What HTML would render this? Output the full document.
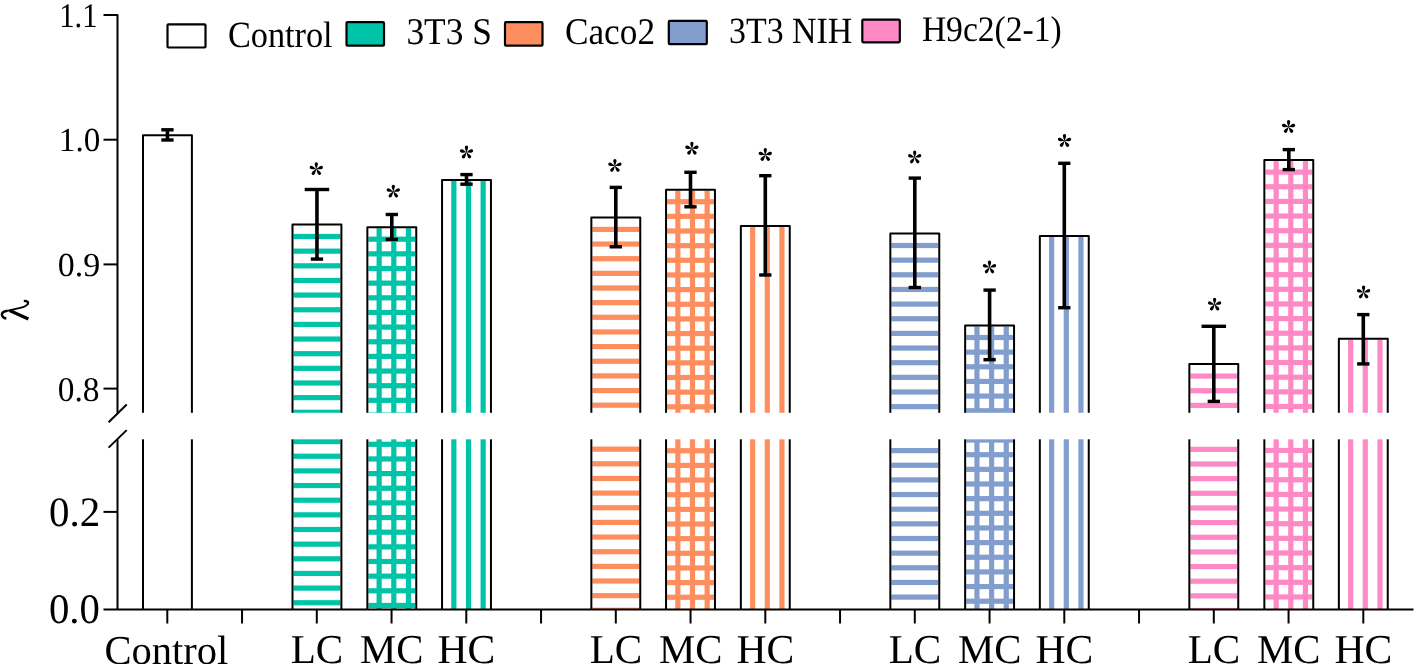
<!DOCTYPE html>
<html><head><meta charset="utf-8"><style>
html,body{margin:0;padding:0;background:#fff;width:1416px;height:664px;overflow:hidden}
svg{display:block;will-change:transform}
text{text-rendering:geometricPrecision;font-family:"Liberation Serif",serif;fill:#000}
</style></head><body>
<svg width="1416" height="664" viewBox="0 0 1416 664">
<defs>
<path id="pt" d="M0,0.3 C-0.45,-1.4 -1.65,-3.5 -1.65,-5.25 A1.65,1.65 0 0 1 1.65,-5.25 C1.65,-3.5 0.45,-1.4 0,0.3 Z"/>
<g id="star"><use href="#pt"/><use href="#pt" transform="rotate(72)"/><use href="#pt" transform="rotate(144)"/><use href="#pt" transform="rotate(216)"/><use href="#pt" transform="rotate(288)"/></g>
</defs>
<rect width="1416" height="664" fill="#fff"/>

<path d="M143.00,609.5 V135.30 H191.90 V609.5" fill="none" stroke="#000" stroke-width="2" stroke-linejoin="round"/>
<g fill="#00C4A8"><rect x="293.50" y="233.90" width="46.90" height="5.20"/><rect x="293.50" y="248.55" width="46.90" height="5.20"/><rect x="293.50" y="263.20" width="46.90" height="5.20"/><rect x="293.50" y="277.85" width="46.90" height="5.20"/><rect x="293.50" y="292.50" width="46.90" height="5.20"/><rect x="293.50" y="307.15" width="46.90" height="5.20"/><rect x="293.50" y="321.80" width="46.90" height="5.20"/><rect x="293.50" y="336.45" width="46.90" height="5.20"/><rect x="293.50" y="351.10" width="46.90" height="5.20"/><rect x="293.50" y="365.75" width="46.90" height="5.20"/><rect x="293.50" y="380.40" width="46.90" height="5.20"/><rect x="293.50" y="395.05" width="46.90" height="5.20"/><rect x="293.50" y="409.70" width="46.90" height="5.20"/><rect x="293.50" y="424.35" width="46.90" height="5.20"/><rect x="293.50" y="439.00" width="46.90" height="5.20"/><rect x="293.50" y="453.65" width="46.90" height="5.20"/><rect x="293.50" y="468.30" width="46.90" height="5.20"/><rect x="293.50" y="482.95" width="46.90" height="5.20"/><rect x="293.50" y="497.60" width="46.90" height="5.20"/><rect x="293.50" y="512.25" width="46.90" height="5.20"/><rect x="293.50" y="526.90" width="46.90" height="5.20"/><rect x="293.50" y="541.55" width="46.90" height="5.20"/><rect x="293.50" y="556.20" width="46.90" height="5.20"/><rect x="293.50" y="570.85" width="46.90" height="5.20"/><rect x="293.50" y="585.50" width="46.90" height="5.20"/><rect x="293.50" y="600.15" width="46.90" height="5.20"/></g>
<path d="M292.50,609.5 V224.50 H341.40 V609.5" fill="none" stroke="#000" stroke-width="2" stroke-linejoin="round"/>
<g fill="#00C4A8"><rect x="368.35" y="236.60" width="46.90" height="5.20"/><rect x="368.35" y="251.25" width="46.90" height="5.20"/><rect x="368.35" y="265.90" width="46.90" height="5.20"/><rect x="368.35" y="280.55" width="46.90" height="5.20"/><rect x="368.35" y="295.20" width="46.90" height="5.20"/><rect x="368.35" y="309.85" width="46.90" height="5.20"/><rect x="368.35" y="324.50" width="46.90" height="5.20"/><rect x="368.35" y="339.15" width="46.90" height="5.20"/><rect x="368.35" y="353.80" width="46.90" height="5.20"/><rect x="368.35" y="368.45" width="46.90" height="5.20"/><rect x="368.35" y="383.10" width="46.90" height="5.20"/><rect x="368.35" y="397.75" width="46.90" height="5.20"/><rect x="368.35" y="412.40" width="46.90" height="5.20"/><rect x="368.35" y="427.05" width="46.90" height="5.20"/><rect x="368.35" y="441.70" width="46.90" height="5.20"/><rect x="368.35" y="456.35" width="46.90" height="5.20"/><rect x="368.35" y="471.00" width="46.90" height="5.20"/><rect x="368.35" y="485.65" width="46.90" height="5.20"/><rect x="368.35" y="500.30" width="46.90" height="5.20"/><rect x="368.35" y="514.95" width="46.90" height="5.20"/><rect x="368.35" y="529.60" width="46.90" height="5.20"/><rect x="368.35" y="544.25" width="46.90" height="5.20"/><rect x="368.35" y="558.90" width="46.90" height="5.20"/><rect x="368.35" y="573.55" width="46.90" height="5.20"/><rect x="368.35" y="588.20" width="46.90" height="5.20"/><rect x="368.35" y="602.85" width="46.90" height="5.20"/><rect x="376.55" y="228.20" width="5.20" height="381.30"/><rect x="391.20" y="228.20" width="5.20" height="381.30"/><rect x="405.85" y="228.20" width="5.20" height="381.30"/></g>
<path d="M367.35,609.5 V227.20 H416.25 V609.5" fill="none" stroke="#000" stroke-width="2" stroke-linejoin="round"/>
<g fill="#00C4A8"><rect x="451.25" y="181.00" width="5.20" height="428.50"/><rect x="465.90" y="181.00" width="5.20" height="428.50"/><rect x="480.55" y="181.00" width="5.20" height="428.50"/></g>
<path d="M442.05,609.5 V180.00 H490.95 V609.5" fill="none" stroke="#000" stroke-width="2" stroke-linejoin="round"/>
<g fill="#FF8E5F"><rect x="592.35" y="226.80" width="46.90" height="5.20"/><rect x="592.35" y="241.45" width="46.90" height="5.20"/><rect x="592.35" y="256.10" width="46.90" height="5.20"/><rect x="592.35" y="270.75" width="46.90" height="5.20"/><rect x="592.35" y="285.40" width="46.90" height="5.20"/><rect x="592.35" y="300.05" width="46.90" height="5.20"/><rect x="592.35" y="314.70" width="46.90" height="5.20"/><rect x="592.35" y="329.35" width="46.90" height="5.20"/><rect x="592.35" y="344.00" width="46.90" height="5.20"/><rect x="592.35" y="358.65" width="46.90" height="5.20"/><rect x="592.35" y="373.30" width="46.90" height="5.20"/><rect x="592.35" y="387.95" width="46.90" height="5.20"/><rect x="592.35" y="402.60" width="46.90" height="5.20"/><rect x="592.35" y="417.25" width="46.90" height="5.20"/><rect x="592.35" y="431.90" width="46.90" height="5.20"/><rect x="592.35" y="446.55" width="46.90" height="5.20"/><rect x="592.35" y="461.20" width="46.90" height="5.20"/><rect x="592.35" y="475.85" width="46.90" height="5.20"/><rect x="592.35" y="490.50" width="46.90" height="5.20"/><rect x="592.35" y="505.15" width="46.90" height="5.20"/><rect x="592.35" y="519.80" width="46.90" height="5.20"/><rect x="592.35" y="534.45" width="46.90" height="5.20"/><rect x="592.35" y="549.10" width="46.90" height="5.20"/><rect x="592.35" y="563.75" width="46.90" height="5.20"/><rect x="592.35" y="578.40" width="46.90" height="5.20"/><rect x="592.35" y="593.05" width="46.90" height="5.20"/><rect x="592.35" y="607.70" width="46.90" height="1.80"/></g>
<path d="M591.35,609.5 V217.40 H640.25 V609.5" fill="none" stroke="#000" stroke-width="2" stroke-linejoin="round"/>
<g fill="#FF8E5F"><rect x="667.05" y="199.10" width="46.90" height="5.20"/><rect x="667.05" y="213.75" width="46.90" height="5.20"/><rect x="667.05" y="228.40" width="46.90" height="5.20"/><rect x="667.05" y="243.05" width="46.90" height="5.20"/><rect x="667.05" y="257.70" width="46.90" height="5.20"/><rect x="667.05" y="272.35" width="46.90" height="5.20"/><rect x="667.05" y="287.00" width="46.90" height="5.20"/><rect x="667.05" y="301.65" width="46.90" height="5.20"/><rect x="667.05" y="316.30" width="46.90" height="5.20"/><rect x="667.05" y="330.95" width="46.90" height="5.20"/><rect x="667.05" y="345.60" width="46.90" height="5.20"/><rect x="667.05" y="360.25" width="46.90" height="5.20"/><rect x="667.05" y="374.90" width="46.90" height="5.20"/><rect x="667.05" y="389.55" width="46.90" height="5.20"/><rect x="667.05" y="404.20" width="46.90" height="5.20"/><rect x="667.05" y="418.85" width="46.90" height="5.20"/><rect x="667.05" y="433.50" width="46.90" height="5.20"/><rect x="667.05" y="448.15" width="46.90" height="5.20"/><rect x="667.05" y="462.80" width="46.90" height="5.20"/><rect x="667.05" y="477.45" width="46.90" height="5.20"/><rect x="667.05" y="492.10" width="46.90" height="5.20"/><rect x="667.05" y="506.75" width="46.90" height="5.20"/><rect x="667.05" y="521.40" width="46.90" height="5.20"/><rect x="667.05" y="536.05" width="46.90" height="5.20"/><rect x="667.05" y="550.70" width="46.90" height="5.20"/><rect x="667.05" y="565.35" width="46.90" height="5.20"/><rect x="667.05" y="580.00" width="46.90" height="5.20"/><rect x="667.05" y="594.65" width="46.90" height="5.20"/><rect x="667.05" y="609.30" width="46.90" height="0.20"/><rect x="675.25" y="190.70" width="5.20" height="418.80"/><rect x="689.90" y="190.70" width="5.20" height="418.80"/><rect x="704.55" y="190.70" width="5.20" height="418.80"/></g>
<path d="M666.05,609.5 V189.70 H714.95 V609.5" fill="none" stroke="#000" stroke-width="2" stroke-linejoin="round"/>
<g fill="#FF8E5F"><rect x="750.05" y="227.00" width="5.20" height="382.50"/><rect x="764.70" y="227.00" width="5.20" height="382.50"/><rect x="779.35" y="227.00" width="5.20" height="382.50"/></g>
<path d="M740.85,609.5 V226.00 H789.75 V609.5" fill="none" stroke="#000" stroke-width="2" stroke-linejoin="round"/>
<g fill="#829ECE"><rect x="891.35" y="242.90" width="46.90" height="5.20"/><rect x="891.35" y="257.55" width="46.90" height="5.20"/><rect x="891.35" y="272.20" width="46.90" height="5.20"/><rect x="891.35" y="286.85" width="46.90" height="5.20"/><rect x="891.35" y="301.50" width="46.90" height="5.20"/><rect x="891.35" y="316.15" width="46.90" height="5.20"/><rect x="891.35" y="330.80" width="46.90" height="5.20"/><rect x="891.35" y="345.45" width="46.90" height="5.20"/><rect x="891.35" y="360.10" width="46.90" height="5.20"/><rect x="891.35" y="374.75" width="46.90" height="5.20"/><rect x="891.35" y="389.40" width="46.90" height="5.20"/><rect x="891.35" y="404.05" width="46.90" height="5.20"/><rect x="891.35" y="418.70" width="46.90" height="5.20"/><rect x="891.35" y="433.35" width="46.90" height="5.20"/><rect x="891.35" y="448.00" width="46.90" height="5.20"/><rect x="891.35" y="462.65" width="46.90" height="5.20"/><rect x="891.35" y="477.30" width="46.90" height="5.20"/><rect x="891.35" y="491.95" width="46.90" height="5.20"/><rect x="891.35" y="506.60" width="46.90" height="5.20"/><rect x="891.35" y="521.25" width="46.90" height="5.20"/><rect x="891.35" y="535.90" width="46.90" height="5.20"/><rect x="891.35" y="550.55" width="46.90" height="5.20"/><rect x="891.35" y="565.20" width="46.90" height="5.20"/><rect x="891.35" y="579.85" width="46.90" height="5.20"/><rect x="891.35" y="594.50" width="46.90" height="5.20"/><rect x="891.35" y="609.15" width="46.90" height="0.35"/></g>
<path d="M890.35,609.5 V233.50 H939.25 V609.5" fill="none" stroke="#000" stroke-width="2" stroke-linejoin="round"/>
<g fill="#829ECE"><rect x="966.15" y="334.90" width="46.90" height="5.20"/><rect x="966.15" y="349.55" width="46.90" height="5.20"/><rect x="966.15" y="364.20" width="46.90" height="5.20"/><rect x="966.15" y="378.85" width="46.90" height="5.20"/><rect x="966.15" y="393.50" width="46.90" height="5.20"/><rect x="966.15" y="408.15" width="46.90" height="5.20"/><rect x="966.15" y="422.80" width="46.90" height="5.20"/><rect x="966.15" y="437.45" width="46.90" height="5.20"/><rect x="966.15" y="452.10" width="46.90" height="5.20"/><rect x="966.15" y="466.75" width="46.90" height="5.20"/><rect x="966.15" y="481.40" width="46.90" height="5.20"/><rect x="966.15" y="496.05" width="46.90" height="5.20"/><rect x="966.15" y="510.70" width="46.90" height="5.20"/><rect x="966.15" y="525.35" width="46.90" height="5.20"/><rect x="966.15" y="540.00" width="46.90" height="5.20"/><rect x="966.15" y="554.65" width="46.90" height="5.20"/><rect x="966.15" y="569.30" width="46.90" height="5.20"/><rect x="966.15" y="583.95" width="46.90" height="5.20"/><rect x="966.15" y="598.60" width="46.90" height="5.20"/><rect x="974.35" y="326.50" width="5.20" height="283.00"/><rect x="989.00" y="326.50" width="5.20" height="283.00"/><rect x="1003.65" y="326.50" width="5.20" height="283.00"/></g>
<path d="M965.15,609.5 V325.50 H1014.05 V609.5" fill="none" stroke="#000" stroke-width="2" stroke-linejoin="round"/>
<g fill="#829ECE"><rect x="1049.05" y="237.00" width="5.20" height="372.50"/><rect x="1063.70" y="237.00" width="5.20" height="372.50"/><rect x="1078.35" y="237.00" width="5.20" height="372.50"/></g>
<path d="M1039.85,609.5 V236.00 H1088.75 V609.5" fill="none" stroke="#000" stroke-width="2" stroke-linejoin="round"/>
<g fill="#FF89C5"><rect x="1190.35" y="373.50" width="46.90" height="5.20"/><rect x="1190.35" y="388.15" width="46.90" height="5.20"/><rect x="1190.35" y="402.80" width="46.90" height="5.20"/><rect x="1190.35" y="417.45" width="46.90" height="5.20"/><rect x="1190.35" y="432.10" width="46.90" height="5.20"/><rect x="1190.35" y="446.75" width="46.90" height="5.20"/><rect x="1190.35" y="461.40" width="46.90" height="5.20"/><rect x="1190.35" y="476.05" width="46.90" height="5.20"/><rect x="1190.35" y="490.70" width="46.90" height="5.20"/><rect x="1190.35" y="505.35" width="46.90" height="5.20"/><rect x="1190.35" y="520.00" width="46.90" height="5.20"/><rect x="1190.35" y="534.65" width="46.90" height="5.20"/><rect x="1190.35" y="549.30" width="46.90" height="5.20"/><rect x="1190.35" y="563.95" width="46.90" height="5.20"/><rect x="1190.35" y="578.60" width="46.90" height="5.20"/><rect x="1190.35" y="593.25" width="46.90" height="5.20"/><rect x="1190.35" y="607.90" width="46.90" height="1.60"/></g>
<path d="M1189.35,609.5 V364.10 H1238.25 V609.5" fill="none" stroke="#000" stroke-width="2" stroke-linejoin="round"/>
<g fill="#FF89C5"><rect x="1265.35" y="169.50" width="46.90" height="5.20"/><rect x="1265.35" y="184.15" width="46.90" height="5.20"/><rect x="1265.35" y="198.80" width="46.90" height="5.20"/><rect x="1265.35" y="213.45" width="46.90" height="5.20"/><rect x="1265.35" y="228.10" width="46.90" height="5.20"/><rect x="1265.35" y="242.75" width="46.90" height="5.20"/><rect x="1265.35" y="257.40" width="46.90" height="5.20"/><rect x="1265.35" y="272.05" width="46.90" height="5.20"/><rect x="1265.35" y="286.70" width="46.90" height="5.20"/><rect x="1265.35" y="301.35" width="46.90" height="5.20"/><rect x="1265.35" y="316.00" width="46.90" height="5.20"/><rect x="1265.35" y="330.65" width="46.90" height="5.20"/><rect x="1265.35" y="345.30" width="46.90" height="5.20"/><rect x="1265.35" y="359.95" width="46.90" height="5.20"/><rect x="1265.35" y="374.60" width="46.90" height="5.20"/><rect x="1265.35" y="389.25" width="46.90" height="5.20"/><rect x="1265.35" y="403.90" width="46.90" height="5.20"/><rect x="1265.35" y="418.55" width="46.90" height="5.20"/><rect x="1265.35" y="433.20" width="46.90" height="5.20"/><rect x="1265.35" y="447.85" width="46.90" height="5.20"/><rect x="1265.35" y="462.50" width="46.90" height="5.20"/><rect x="1265.35" y="477.15" width="46.90" height="5.20"/><rect x="1265.35" y="491.80" width="46.90" height="5.20"/><rect x="1265.35" y="506.45" width="46.90" height="5.20"/><rect x="1265.35" y="521.10" width="46.90" height="5.20"/><rect x="1265.35" y="535.75" width="46.90" height="5.20"/><rect x="1265.35" y="550.40" width="46.90" height="5.20"/><rect x="1265.35" y="565.05" width="46.90" height="5.20"/><rect x="1265.35" y="579.70" width="46.90" height="5.20"/><rect x="1265.35" y="594.35" width="46.90" height="5.20"/><rect x="1265.35" y="609.00" width="46.90" height="0.50"/><rect x="1273.55" y="161.10" width="5.20" height="448.40"/><rect x="1288.20" y="161.10" width="5.20" height="448.40"/><rect x="1302.85" y="161.10" width="5.20" height="448.40"/></g>
<path d="M1264.35,609.5 V160.10 H1313.25 V609.5" fill="none" stroke="#000" stroke-width="2" stroke-linejoin="round"/>
<g fill="#FF89C5"><rect x="1348.05" y="339.80" width="5.20" height="269.70"/><rect x="1362.70" y="339.80" width="5.20" height="269.70"/><rect x="1377.35" y="339.80" width="5.20" height="269.70"/></g>
<path d="M1338.85,609.5 V338.80 H1387.75 V609.5" fill="none" stroke="#000" stroke-width="2" stroke-linejoin="round"/>
<rect x="120" y="412.8" width="1296" height="26.5" fill="#fff"/>
<g stroke="#000" fill="none"><line x1="167.45" y1="129.80" x2="167.45" y2="140.00" stroke-width="3.6"/><line x1="161.30" y1="129.80" x2="173.60" y2="129.80" stroke-width="3.4"/><line x1="161.30" y1="140.00" x2="173.60" y2="140.00" stroke-width="3.4"/></g>
<g stroke="#000" fill="none"><line x1="316.95" y1="189.50" x2="316.95" y2="259.10" stroke-width="3.6"/><line x1="304.70" y1="189.50" x2="329.20" y2="189.50" stroke-width="3.4"/><line x1="310.80" y1="259.10" x2="323.10" y2="259.10" stroke-width="3.4"/></g>
<use href="#star" x="316.30" y="169.10"/>
<g stroke="#000" fill="none"><line x1="391.80" y1="214.50" x2="391.80" y2="239.40" stroke-width="3.6"/><line x1="385.65" y1="214.50" x2="397.95" y2="214.50" stroke-width="3.4"/><line x1="385.65" y1="239.40" x2="397.95" y2="239.40" stroke-width="3.4"/></g>
<use href="#star" x="393.30" y="191.60"/>
<g stroke="#000" fill="none"><line x1="466.50" y1="174.60" x2="466.50" y2="184.20" stroke-width="3.6"/><line x1="460.35" y1="174.60" x2="472.65" y2="174.60" stroke-width="3.4"/><line x1="460.35" y1="184.20" x2="472.65" y2="184.20" stroke-width="3.4"/></g>
<use href="#star" x="466.50" y="152.50"/>
<g stroke="#000" fill="none"><line x1="615.80" y1="187.40" x2="615.80" y2="246.80" stroke-width="3.6"/><line x1="609.65" y1="187.40" x2="621.95" y2="187.40" stroke-width="3.4"/><line x1="609.65" y1="246.80" x2="621.95" y2="246.80" stroke-width="3.4"/></g>
<use href="#star" x="614.90" y="165.90"/>
<g stroke="#000" fill="none"><line x1="690.50" y1="172.30" x2="690.50" y2="206.80" stroke-width="3.6"/><line x1="684.35" y1="172.30" x2="696.65" y2="172.30" stroke-width="3.4"/><line x1="684.35" y1="206.80" x2="696.65" y2="206.80" stroke-width="3.4"/></g>
<use href="#star" x="691.90" y="148.70"/>
<g stroke="#000" fill="none"><line x1="765.30" y1="175.70" x2="765.30" y2="275.00" stroke-width="3.6"/><line x1="759.15" y1="175.70" x2="771.45" y2="175.70" stroke-width="3.4"/><line x1="759.15" y1="275.00" x2="771.45" y2="275.00" stroke-width="3.4"/></g>
<use href="#star" x="765.30" y="155.00"/>
<g stroke="#000" fill="none"><line x1="914.80" y1="178.10" x2="914.80" y2="287.50" stroke-width="3.6"/><line x1="908.65" y1="178.10" x2="920.95" y2="178.10" stroke-width="3.4"/><line x1="908.65" y1="287.50" x2="920.95" y2="287.50" stroke-width="3.4"/></g>
<use href="#star" x="914.70" y="157.40"/>
<g stroke="#000" fill="none"><line x1="989.60" y1="290.10" x2="989.60" y2="359.70" stroke-width="3.6"/><line x1="983.45" y1="290.10" x2="995.75" y2="290.10" stroke-width="3.4"/><line x1="983.45" y1="359.70" x2="995.75" y2="359.70" stroke-width="3.4"/></g>
<use href="#star" x="989.50" y="267.40"/>
<g stroke="#000" fill="none"><line x1="1064.30" y1="163.30" x2="1064.30" y2="307.70" stroke-width="3.6"/><line x1="1058.15" y1="163.30" x2="1070.45" y2="163.30" stroke-width="3.4"/><line x1="1058.15" y1="307.70" x2="1070.45" y2="307.70" stroke-width="3.4"/></g>
<use href="#star" x="1064.50" y="141.00"/>
<g stroke="#000" fill="none"><line x1="1213.80" y1="326.30" x2="1213.80" y2="401.40" stroke-width="3.6"/><line x1="1201.55" y1="326.30" x2="1226.05" y2="326.30" stroke-width="3.4"/><line x1="1207.65" y1="401.40" x2="1219.95" y2="401.40" stroke-width="3.4"/></g>
<use href="#star" x="1214.60" y="304.60"/>
<g stroke="#000" fill="none"><line x1="1288.80" y1="149.60" x2="1288.80" y2="169.60" stroke-width="3.6"/><line x1="1282.65" y1="149.60" x2="1294.95" y2="149.60" stroke-width="3.4"/><line x1="1282.65" y1="169.60" x2="1294.95" y2="169.60" stroke-width="3.4"/></g>
<use href="#star" x="1288.60" y="127.00"/>
<g stroke="#000" fill="none"><line x1="1363.30" y1="314.60" x2="1363.30" y2="363.90" stroke-width="3.6"/><line x1="1357.15" y1="314.60" x2="1369.45" y2="314.60" stroke-width="3.4"/><line x1="1357.15" y1="363.90" x2="1369.45" y2="363.90" stroke-width="3.4"/></g>
<use href="#star" x="1363.60" y="292.40"/>
<g stroke="#000" stroke-width="2" fill="none" stroke-linejoin="round">
<path d="M103.5,15.1 H117.5 V412.8"/>
<line x1="103.5" y1="139.7" x2="117.5" y2="139.7"/>
<line x1="103.5" y1="264.4" x2="117.5" y2="264.4"/>
<line x1="103.5" y1="388.6" x2="117.5" y2="388.6"/>
<line x1="103.5" y1="511.9" x2="117.5" y2="511.9"/>
<line x1="117.5" y1="439.3" x2="117.5" y2="609.5"/>
<line x1="103.5" y1="609.5" x2="1413.5" y2="609.5"/>
<line x1="167.30" y1="609.5" x2="167.30" y2="623.5"/>
<line x1="242.05" y1="609.5" x2="242.05" y2="623.5"/>
<line x1="316.80" y1="609.5" x2="316.80" y2="623.5"/>
<line x1="391.55" y1="609.5" x2="391.55" y2="623.5"/>
<line x1="466.30" y1="609.5" x2="466.30" y2="623.5"/>
<line x1="541.05" y1="609.5" x2="541.05" y2="623.5"/>
<line x1="615.80" y1="609.5" x2="615.80" y2="623.5"/>
<line x1="690.55" y1="609.5" x2="690.55" y2="623.5"/>
<line x1="765.30" y1="609.5" x2="765.30" y2="623.5"/>
<line x1="840.05" y1="609.5" x2="840.05" y2="623.5"/>
<line x1="914.80" y1="609.5" x2="914.80" y2="623.5"/>
<line x1="989.55" y1="609.5" x2="989.55" y2="623.5"/>
<line x1="1064.30" y1="609.5" x2="1064.30" y2="623.5"/>
<line x1="1139.05" y1="609.5" x2="1139.05" y2="623.5"/>
<line x1="1213.80" y1="609.5" x2="1213.80" y2="623.5"/>
<line x1="1288.55" y1="609.5" x2="1288.55" y2="623.5"/>
<line x1="1363.30" y1="609.5" x2="1363.30" y2="623.5"/>
<line x1="108.6" y1="422.3" x2="126.7" y2="404.5"/>
<line x1="108.6" y1="447.6" x2="126.7" y2="430.1"/>
</g>
<text transform="matrix(0.30567,0,0,0.34370,59.23,27.08)" font-size="100">1.1</text>
<text transform="matrix(0.33244,0,0,0.33676,58.79,151.29)" font-size="100">1.0</text>
<text transform="matrix(0.33945,0,0,0.33676,57.73,275.89)" font-size="100">0.9</text>
<text transform="matrix(0.33362,0,0,0.34559,57.75,400.68)" font-size="100">0.8</text>
<text transform="matrix(0.40950,0,0,0.41912,48.96,525.97)" font-size="100">0.2</text>
<text transform="matrix(0.40681,0,0,0.42059,48.97,623.27)" font-size="100">0.0</text>
<g fill="none" stroke="#000" stroke-linecap="round"><path d="M6.3,318.4 C3.6,318.1 1.9,316.2 1.9,314.5 C1.9,312.5 4.5,311.3 7.2,310.8" stroke-width="2.5" stroke-linecap="butt"/><path d="M7.2,310.8 C11,310 15,309.1 19,308.2 C23,307.3 26.3,306.2 27.6,304.2" stroke-width="1.8"/><path d="M27.6,304.2 C28.9,302.4 27.8,300.9 23.8,300.9" stroke-width="2.3" stroke-linecap="butt"/><path d="M9.6,310.6 L28.4,319.0" stroke-width="3.3" stroke-linecap="butt"/></g>
<text transform="matrix(0.40501,0,0,0.41000,104.48,663.89)" font-size="100">Control</text>
<text transform="matrix(0.41090,0,0,0.41000,290.67,663.36)" font-size="100">LC</text>
<text transform="matrix(0.40748,0,0,0.41000,359.98,663.36)" font-size="100">MC</text>
<text transform="matrix(0.41609,0,0,0.41000,437.50,663.36)" font-size="100">HC</text>
<text transform="matrix(0.41090,0,0,0.41000,589.67,663.36)" font-size="100">LC</text>
<text transform="matrix(0.40748,0,0,0.41000,658.98,663.36)" font-size="100">MC</text>
<text transform="matrix(0.41609,0,0,0.41000,736.50,663.36)" font-size="100">HC</text>
<text transform="matrix(0.41090,0,0,0.41000,888.67,663.36)" font-size="100">LC</text>
<text transform="matrix(0.40748,0,0,0.41000,957.98,663.36)" font-size="100">MC</text>
<text transform="matrix(0.41609,0,0,0.41000,1035.50,663.36)" font-size="100">HC</text>
<text transform="matrix(0.41090,0,0,0.41000,1187.67,663.36)" font-size="100">LC</text>
<text transform="matrix(0.40748,0,0,0.41000,1256.98,663.36)" font-size="100">MC</text>
<text transform="matrix(0.41609,0,0,0.41000,1334.50,663.36)" font-size="100">HC</text>
<rect x="167.50" y="24.30" width="38.00" height="23.20" rx="1" fill="#fff" stroke="#000" stroke-width="2.2"/>
<rect x="346.50" y="22.20" width="37.50" height="23.50" rx="1" fill="#00C4A8" stroke="#000" stroke-width="2.2"/>
<rect x="505.00" y="22.20" width="37.50" height="23.50" rx="1" fill="#FF8E5F" stroke="#000" stroke-width="2.2"/>
<rect x="668.80" y="20.90" width="38.00" height="23.30" rx="1" fill="#829ECE" stroke="#000" stroke-width="2.2"/>
<rect x="862.30" y="19.70" width="37.50" height="22.60" rx="1" fill="#FF89C5" stroke="#000" stroke-width="2.2"/>
<text transform="matrix(0.34257,0,0,0.36879,227.93,46.53)" font-size="100">Control</text>
<text transform="matrix(0.35363,0,0,0.37770,406.42,44.22)" font-size="100">3T3 S</text>
<text transform="matrix(0.35285,0,0,0.37621,564.89,44.22)" font-size="100">Caco2</text>
<text transform="matrix(0.33853,0,0,0.36877,729.09,42.73)" font-size="100">3T3 NIH</text>
<text transform="matrix(0.33545,0,0,0.35900,921.89,41.00)" font-size="100">H9c2(2-1)</text>
</svg></body></html>
